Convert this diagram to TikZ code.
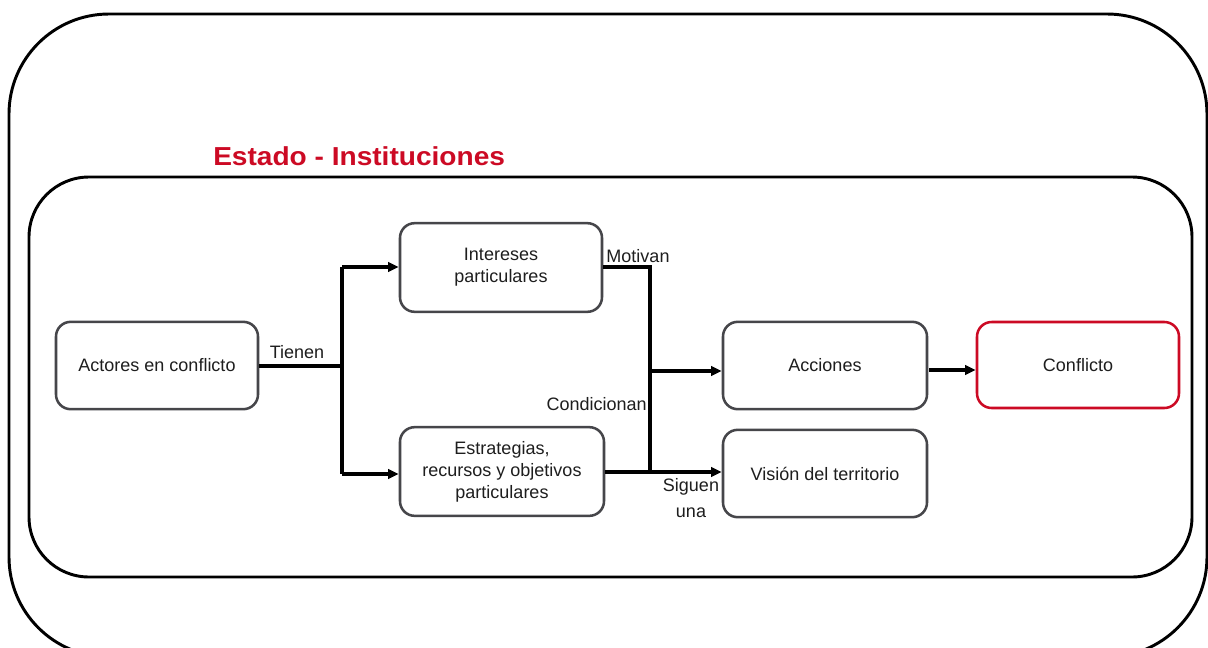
\documentclass[tikz,border=0pt]{standalone}
\usepackage{fontspec}
\setmainfont{Liberation Sans}
\usetikzlibrary{arrows.meta}
\definecolor{redc}{RGB}{204,10,36}
\definecolor{boxgray}{RGB}{70,70,74}
\definecolor{txt}{RGB}{30,30,30}
\tikzset{
  box/.style={draw=boxgray, line width=1.9pt, rounded corners=11pt, fill=white,
    minimum width=151.5pt, minimum height=65.5pt, align=center, text=txt,
    font=\fontsize{13.5}{16.5}\selectfont, inner sep=2pt},
  redbox/.style={box, draw=redc},
  conn/.style={line width=2.3pt, black},
  arr/.style={conn, -{Triangle[length=8pt,width=7pt]}},
  lbl/.style={font=\fontsize{13.5}{16}\selectfont, text=txt, inner sep=0pt, align=center},
  frame/.style={draw=black, line width=2.2pt},
}
\begin{document}
\begin{tikzpicture}[x=0.75pt,y=-0.75pt]
\useasboundingbox (0,0) rectangle (1208,647);
\clip (0,0) rectangle (1208,647);
\fill[white] (0,0) rectangle (1208,647);
% frames
\draw[frame, rounded corners=75pt] (9,14) rectangle (1207,657);
\draw[frame, rounded corners=45pt] (29,177) rectangle (1192,577);
% title
\node[anchor=base west, inner sep=0pt, text=redc, font=\fontsize{19.5}{22}\selectfont\bfseries] (title) at (213,165) {\scalebox{1.08}[1]{Estado - Instituciones}};
% nodes
\node[box, minimum height=65.5pt] (act) at (157,365.5) {Actores en conflicto};
\node[box, minimum height=66.5pt] (int) at (501,267.5) {Intereses\\particulares};
\node[box, minimum width=153pt, minimum height=66.5pt] (est) at (502,471.5) {Estrategias,\\recursos y objetivos\\particulares};
\node[box, minimum width=153pt] (acc) at (825,365.5) {Acciones};
\node[box, minimum width=153pt] (vis) at (825,473.5) {Visión del territorio};
\node[redbox, minimum height=64.5pt] (con) at (1078,365) {Conflicto};
% junction coordinates
\coordinate (j1) at (342,366);
\coordinate (j1t) at (342,267);
\coordinate (j1b) at (342,474);
\coordinate (j2t) at (650,267);
\coordinate (j2m) at (650,371);
\coordinate (j2b) at (650,472);
\coordinate (a1) at (929,370);
% connectors
\draw[conn] (act.east |- j1) -- (j1);
\draw[conn] (j1t) -- (j1b);
\draw[arr] (j1t) -- (j1t -| int.west);
\draw[arr] (j1b) -- (j1b -| est.west);
\draw[conn] (int.east |- j2t) -- (j2t) -- (j2b);
\draw[conn] (est.east |- j2b) -- (j2b);
\draw[arr] (j2m) -- (j2m -| acc.west);
\draw[arr] (j2b) -- (j2b -| vis.west);
\draw[arr] (a1) -- (a1 -| con.west);
% labels
\node[lbl] (ltienen) at (297,352) {Tienen};
\node[lbl] (lmot) at (638,256) {Motivan};
\node[lbl, anchor=east] (lcond) at (647,404) {Condicionan};
\node[lbl, font=\fontsize{13.5}{19}\selectfont] (lsig) at (691,498) {Siguen\\una};
\end{tikzpicture}
\end{document}
